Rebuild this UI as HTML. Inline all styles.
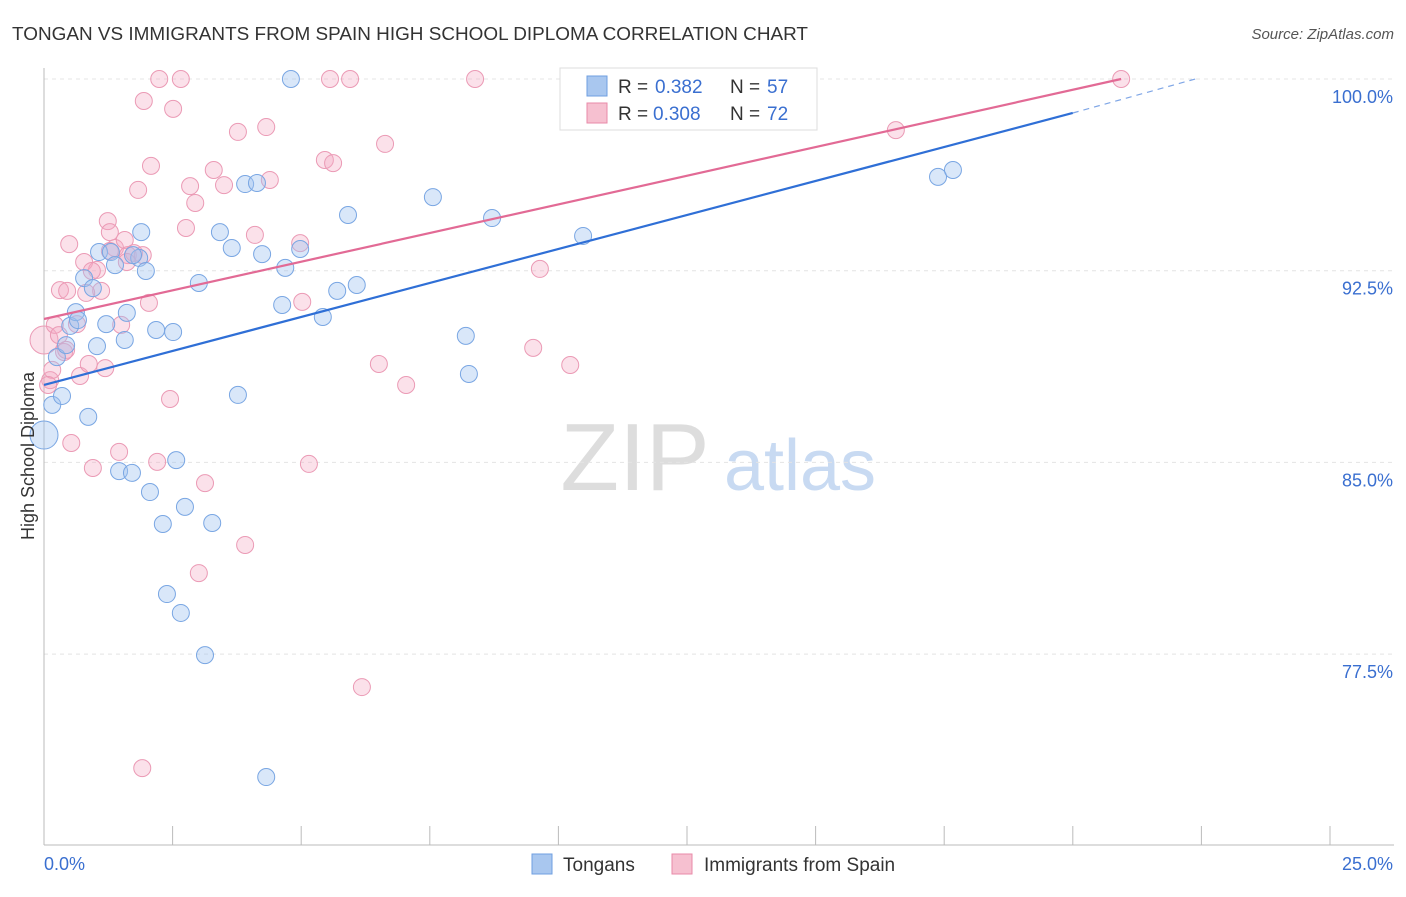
<!DOCTYPE html>
<html><head><meta charset="utf-8">
<style>
body{margin:0;background:#fff;font-family:"Liberation Sans",sans-serif;}
svg text{font-family:"Liberation Sans",sans-serif;}
</style></head>
<body>
<svg id="chart" width="1406" height="892" viewBox="0 0 1406 892">
<text x="12" y="40" font-size="18" fill="#333" textLength="796" lengthAdjust="spacingAndGlyphs">TONGAN VS IMMIGRANTS FROM SPAIN HIGH SCHOOL DIPLOMA CORRELATION CHART</text>
<text x="1394" y="39" font-size="15" fill="#555" font-style="italic" text-anchor="end">Source: ZipAtlas.com</text>
<g>
<text x="635" y="490" font-size="96" fill="#ddd" font-family="Liberation Serif,serif" text-anchor="middle">ZIP</text>
<text x="800" y="490" font-size="72" fill="#c8daf2" text-anchor="middle">atlas</text>
</g>
<g id="grid"></g>
<g id="axes"></g>
<g id="marks"></g>
<g id="lines"></g>
<text transform="translate(34,456) rotate(-90)" font-size="18" fill="#333" text-anchor="middle">High School Diploma</text>
<g>
<rect x="560" y="68" width="257" height="62" fill="#fff" stroke="#ddd"/>
<rect x="587" y="76" width="20" height="20" fill="#a9c7ef" stroke="#6f9fe0"/>
<text x="618" y="93" font-size="19" fill="#333">R =</text>
<text x="655" y="93" font-size="19" fill="#3a6fd0">0.382</text>
<text x="730" y="93" font-size="19" fill="#333">N =</text>
<text x="767" y="93" font-size="19" fill="#3a6fd0">57</text>
<rect x="587" y="103" width="20" height="20" fill="#f6c0d0" stroke="#e88aa8"/>
<text x="618" y="120" font-size="19" fill="#333">R =</text>
<text x="653" y="120" font-size="19" fill="#3a6fd0">0.308</text>
<text x="730" y="120" font-size="19" fill="#333">N =</text>
<text x="767" y="120" font-size="19" fill="#3a6fd0">72</text>
</g>
<g>
<rect x="532" y="854" width="20" height="20" fill="#a9c7ef" stroke="#6f9fe0"/>
<text x="563" y="871" font-size="19" fill="#333">Tongans</text>
<rect x="672" y="854" width="20" height="20" fill="#f6c0d0" stroke="#e88aa8"/>
<text x="704" y="871" font-size="19" fill="#333">Immigrants from Spain</text>
</g>
</svg>
<script>
const yTicks=[100,92.5,85,77.5];
const yTickLabels=["100.0%","92.5%","85.0%","77.5%"];
const xTicks=[0,2.5,5,7.5,10,12.5,15,17.5,20,22.5,25];
const blueX=[4.80,0,0.16,0.25,0.35,0.43,0.51,0.62,0.66,0.86,0.78,0.95,1.03,1.07,1.21,1.30,1.38,1.57,1.61,1.46,1.71,1.85,1.89,1.98,2.06,2.18,2.31,2.39,2.51,2.57,2.66,2.74,3.01,3.13,3.27,3.42,3.65,3.77,3.91,4.14,4.24,4.32,4.63,4.69,4.98,5.42,5.70,5.91,6.08,7.56,8.20,8.26,8.71,10.48,17.38,17.67,1.73];
const blueY=[100,86.07,87.25,89.12,87.6,89.59,90.34,90.88,90.57,86.78,92.21,91.82,89.55,93.23,90.41,93.23,92.72,89.79,90.85,84.66,84.59,93.0,94.01,92.49,83.84,90.18,82.59,79.85,90.10,85.09,79.11,83.26,92.02,77.46,82.63,94.01,93.39,87.64,95.89,95.93,93.15,72.69,91.16,92.61,93.35,90.69,91.71,94.68,91.94,95.38,89.95,88.46,94.56,93.86,96.17,96.44,93.11];
const pinkX=[0,0.12,0.16,0.21,0.31,0.39,0.45,0.49,0.53,0.64,0.70,0.78,0.87,0.95,1.03,1.11,1.19,1.24,1.28,1.38,1.46,1.50,1.57,1.63,1.75,1.83,1.92,1.94,2.04,2.08,2.20,2.24,2.45,2.51,2.66,2.76,2.84,2.94,3.01,3.13,3.30,3.50,3.77,3.91,4.10,4.32,4.39,4.98,5.02,5.15,5.46,5.56,5.62,5.95,6.18,6.51,6.63,7.04,8.38,9.51,9.64,10.23,16.56,20.94,1.91,1.61,1.28,0.93,0.82,0.43,0.29,0.08];
const pinkY=[89.79,88.22,88.62,90.38,91.74,89.32,91.71,93.54,85.76,90.41,88.38,92.84,88.85,84.78,92.53,91.71,88.69,94.44,94.01,93.39,85.41,90.38,93.70,93.11,93.19,95.66,93.11,99.14,91.24,96.60,85.02,100,87.48,98.83,100,94.17,95.81,95.15,80.67,84.19,96.44,95.85,97.93,81.77,93.90,98.12,96.05,93.58,91.28,84.94,96.83,100,96.71,100,76.21,88.85,97.46,88.03,100,89.48,92.57,88.81,98.0,100,73.04,92.84,93.27,92.49,91.63,89.40,89.98,88.03];
const blueSize=[1,2,1,1,1,1,1,1,1,1,1,1,1,1,1,1,1,1,1,1,1,1,1,1,1,1,1,1,1,1,1,1,1,1,1,1,1,1,1,1,1,1,1,1,1,1,1,1,1,1,1,1,1,1,1,1,1];
const pinkSize=[2,1,1,1,1,1,1,1,1,1,1,1,1,1,1,1,1,1,1,1,1,1,1,1,1,1,1,1,1,1,1,1,1,1,1,1,1,1,1,1,1,1,1,1,1,1,1,1,1,1,1,1,1,1,1,1,1,1,1,1,1,1,1,1,1,1,1,1,1,1,1,1];
const blueLine=[0,88.03,20.0,98.67,22.38,100];
const pinkLine=[0,90.61,20.94,100];
const NS="http://www.w3.org/2000/svg";
const X=v=>44+v*51.44, Y=v=>79+(100-v)*25.56;
function mk(t,a,p){const e=document.createElementNS(NS,t);for(const k in a)e.setAttribute(k,a[k]);p.appendChild(e);return e;}
const grid=document.getElementById('grid'),axes=document.getElementById('axes'),marks=document.getElementById('marks'),lines=document.getElementById('lines');
yTicks.forEach((v,i)=>{
 const l=mk('line',{x1:44,x2:1394,y1:Y(v),y2:Y(v),stroke:'#e4e4e4','stroke-dasharray':'4,4'},grid);
 
 
 const t=mk('text',{x:1393,y:Y(v)+24,'font-size':18,fill:'#3a6fd0','text-anchor':'end'},axes);
 t.textContent=yTickLabels[i];
 
 
});
mk('line',{x1:44,x2:44,y1:68,y2:845,stroke:'#bbb'},axes);
mk('line',{x1:44,x2:1394,y1:845,y2:845,stroke:'#bbb'},axes);
xTicks.forEach(v=>{const l=mk('line',{x1:X(v),x2:X(v),y1:826,y2:845,stroke:'#bbb'},axes);
 
 });
const xl0=mk('text',{x:44,y:870,'font-size':18,fill:'#3a6fd0'},axes);xl0.textContent='0.0%';


const xl1=mk('text',{x:1393,y:870,'font-size':18,fill:'#3a6fd0','text-anchor':'end'},axes);xl1.textContent='25.0%';


pinkX.forEach((v,i)=>{const c=mk('circle',{cx:X(v),cy:Y(pinkY[i]),r:pinkSize[i]>1?14:8.5,fill:'rgba(244,170,195,0.35)',stroke:'#eb9ab5','stroke-width':1},marks);
 
 });
blueX.forEach((v,i)=>{const c=mk('circle',{cx:X(v),cy:Y(blueY[i]),r:blueSize[i]>1?14:8.5,fill:'rgba(160,195,240,0.4)',stroke:'#79a6e3','stroke-width':1},marks);
 
 });
const pl=mk('line',{x1:X(pinkLine[0]),y1:Y(pinkLine[1]),x2:X(pinkLine[2]),y2:Y(pinkLine[3]),stroke:'#e26a95','stroke-width':2.2},lines);


const bl=mk('line',{x1:X(blueLine[0]),y1:Y(blueLine[1]),x2:X(blueLine[2]),y2:Y(blueLine[3]),stroke:'#2f6fd6','stroke-width':2.2},lines);


const bd=mk('line',{x1:X(blueLine[2]),y1:Y(blueLine[3]),x2:X(blueLine[4]),y2:Y(blueLine[5]),stroke:'#7fa6e6','stroke-width':1.2,'stroke-dasharray':'6,5'},lines);


</script>
</body></html>
